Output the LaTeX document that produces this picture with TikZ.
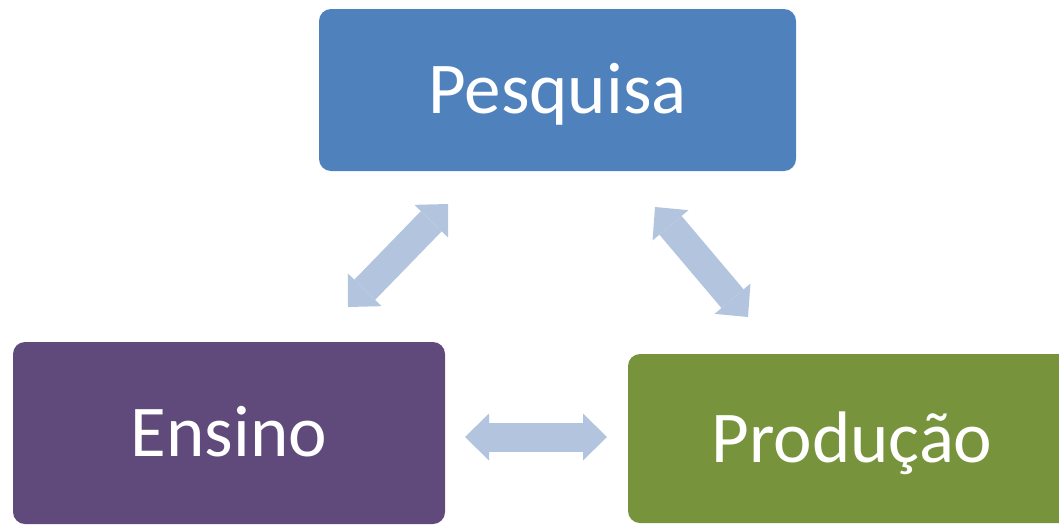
\documentclass[tikz,border=0pt]{standalone}
\usepackage{fontspec}
\setmainfont{Carlito}
\usepackage{xcolor}
\usetikzlibrary{arrows.meta,calc,positioning}
\definecolor{pesqblue}{RGB}{79,129,189}
\definecolor{ensviolet}{RGB}{96,74,123}
\definecolor{prodgreen}{RGB}{119,147,60}
\definecolor{linkblue}{RGB}{179,196,223}
\tikzstyle{box} = [rectangle, rounded corners=9pt, inner sep=0pt, text=white,
  font={\fontsize{54.75}{60}\selectfont}, text height=35.25pt, text depth=0pt]
\tikzstyle{link} = [draw=linkblue, line width=21.75pt,
  {Triangle[width=35.25pt,length=18pt,line width'=0pt]}-{Triangle[width=35.25pt,length=18pt,line width'=0pt]}]

\begin{document}
\begin{tikzpicture}[x=0.75pt, y=-0.75pt]
      \useasboundingbox (0,0) rectangle (1059,525);
      \node [box, fill=pesqblue, minimum width=357.75pt, minimum height=121.5pt]
        at (557.5,90) (pesquisa) {Pesquisa};
      \node [box, fill=ensviolet, minimum width=324pt, minimum height=136.5pt]
        at (229,433) (ensino) {Ensino};
      \node [box, fill=prodgreen, minimum width=336pt, minimum height=126.75pt]
        at (852,438.5) (producao) {Produção};
      % arrow ends
      \coordinate (pe) at (448,204);
      \coordinate (ep) at (348,307);
      \coordinate (pp) at (655,207);
      \coordinate (ppr) at (748,317);
      \coordinate (epr) at (465,437);
      \coordinate (pre) at (607,437);
      \path [link] (pe) -- (ep);
      \path [link] (pp) -- (ppr);
      \path [link] (epr) -- (pre);
    \end{tikzpicture}
\end{document}
